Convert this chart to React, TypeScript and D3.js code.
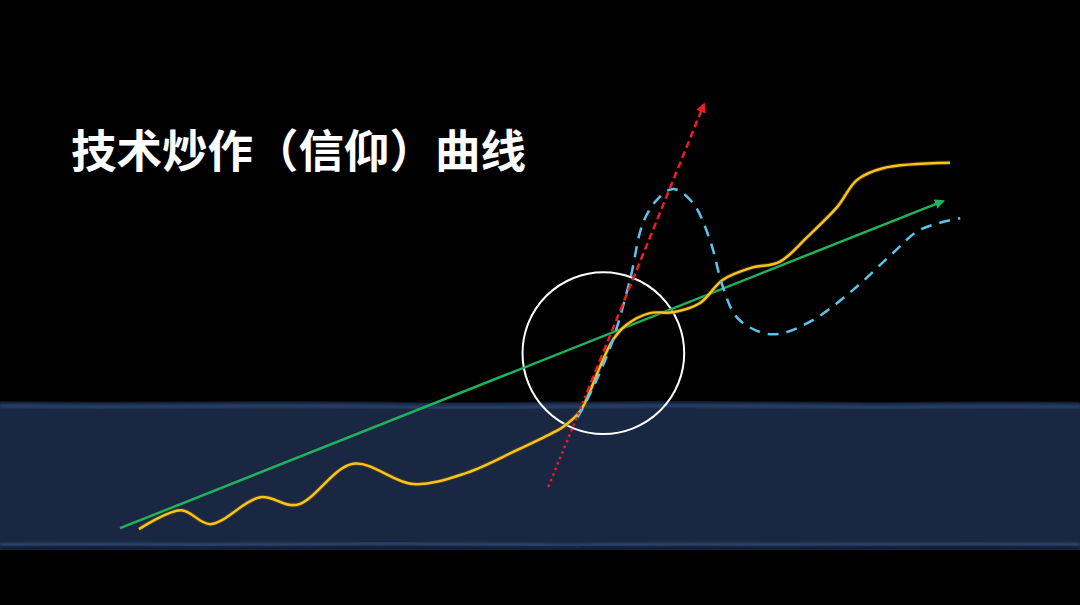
import React from "react";
import * as d3 from "d3";

const W = 1080;
const H = 605;

const title = "技术炒作（信仰）曲线";

// abstract coordinates: t = time (0..100), v = expectation (0..100)
const hypeT = [3.6, 8.5, 11.9, 17.7, 22.0, 28.5, 35.5, 41.7, 47.6, 51.7, 52.9, 54.9, 56.0, 56.9, 58.7, 60.3, 63.0, 65.7, 68.8, 71.5, 74.7, 78.1, 81.3, 84.8, 87.1, 90.1, 97.9];
const hypeV = [4.2, 8.4, 5.3, 11.3, 9.6, 18.7, 14.2, 16.7, 21.8, 25.6, 26.9, 30.4, 34.6, 38.9, 46.2, 49.6, 52.2, 52.4, 54.4, 59.6, 62.2, 63.6, 69.1, 75.8, 81.8, 84.4, 85.6];

const bubbleT = [54.6, 55.8, 57.2, 58.7, 60.7, 62.2, 63.8, 65.7, 68.0, 70.0, 71.5, 73.1, 75.8, 78.1, 82.0, 86.6, 91.3, 94.4, 99.1];
const bubbleV = [29.0, 33.3, 39.0, 46.2, 59.6, 72.2, 77.3, 79.8, 76.7, 68.4, 58.0, 51.3, 48.0, 47.6, 50.7, 57.3, 65.6, 70.7, 73.3];

const trendT = [1.4, 97.1];
const trendV = [4.4, 77.1];

const hypeTangentT = [51.2, 55.7, 69.3];
const hypeTangentV = [13.6, 34.6, 98.6];

const focusT = 57.6;
const focusV = 43.3;
const focusR = 9.4;

const bandV = [0, 32.2];
const bandTopWave = [0, 0.6, 0.2, -0.3, 0.5, 0.9, 0.1, -0.4, 0.3, 0.7, 0.0, 0.4];
const bandBottomWave = [0.3, -0.2, 0.5, 0.1, -0.4, 0.3, 0.6, -0.1, 0.4, 0.0, -0.3, 0.2];

const x = d3.scaleLinear().domain([0, 100]).range([108, 968]);
const y = d3.scaleLinear().domain([0, 100]).range([548, 98]);

type P = [number, number];
const zip = (a: number[], b: number[]): P[] => a.map((t, i) => [t, b[i]]);

const smooth = d3
  .line<P>()
  .x((d) => x(d[0]))
  .y((d) => y(d[1]))
  .curve(d3.curveCatmullRom.alpha(0.5));

const straight = d3
  .line<P>()
  .x((d) => x(d[0]))
  .y((d) => y(d[1]));

export default function App() {
  const top = y(bandV[1]);
  const bottom = y(bandV[0]);
  const waveX = d3.scaleLinear().domain([0, bandTopWave.length - 1]).range([0, W]);
  const edge = (base: number, wave: number[]) =>
    d3
      .line<number>()
      .x((_, i) => waveX(i))
      .y((d) => base + d * 2)
      .curve(d3.curveBasis)(wave) as string;

  const tangent = zip(hypeTangentT, hypeTangentV);

  return (
    <svg
      width={W}
      height={H}
      style={{ position: "absolute", left: 0, top: 0, background: "#000" }}
    >
      <defs>
        <marker id="arrG" viewBox="0 0 10 10" refX="8" refY="5" markerWidth="4" markerHeight="4" orient="auto">
          <path d="M0,0 L10,5 L0,10 z" fill="#1fb35c" />
        </marker>
        <marker id="arrR" viewBox="0 0 10 10" refX="8" refY="5" markerWidth="4" markerHeight="4" orient="auto">
          <path d="M0,0 L10,5 L0,10 z" fill="#ee1c24" />
        </marker>
        <filter id="soft" x="-5%" y="-50%" width="110%" height="200%">
          <feGaussianBlur stdDeviation="1.2" />
        </filter>
      </defs>
      <rect x={0} y={0} width={W} height={H} fill="#000" />

      {/* band */}
      <rect x={0} y={top} width={W} height={bottom - top + 2} fill="#1a2742" />
      <path d={edge(top, bandTopWave)} stroke="#1f2f4e" strokeWidth={3} fill="none" filter="url(#soft)" />
      <path d={edge(top + 3, bandTopWave)} stroke="#2c4672" strokeWidth={2.5} fill="none" filter="url(#soft)" />
      <path d={edge(bottom - 4, bandBottomWave)} stroke="#2c4672" strokeWidth={3} fill="none" filter="url(#soft)" />
      <path d={edge(bottom, bandBottomWave)} stroke="#131d33" strokeWidth={3} fill="none" filter="url(#soft)" />

      {/* title */}
      <text
        x={71}
        y={168}
        fill="#ffffff"
        fontSize={45.5}
        fontWeight={700}
        fontFamily="'Noto Sans CJK SC', 'Noto Sans', sans-serif"
      >
        {title}
      </text>

      {/* focus circle */}
      <circle
        cx={x(focusT)}
        cy={y(focusV)}
        r={x(focusR) - x(0)}
        fill="none"
        stroke="#ffffff"
        strokeWidth={2}
      />

      {/* trend line */}
      <path
        d={straight(zip(trendT, trendV)) as string}
        stroke="#1fb35c"
        strokeWidth={2.5}
        fill="none"
        markerEnd="url(#arrG)"
      />

      {/* hype (actual) curve */}
      <path d={smooth(zip(hypeT, hypeV)) as string} stroke="#5a4a10" strokeWidth={4.5} fill="none" opacity={0.6} />
      <path d={smooth(zip(hypeT, hypeV)) as string} stroke="#fcc419" strokeWidth={2.5} fill="none" />

      {/* bubble dashed curve */}
      <path
        d={smooth(zip(bubbleT, bubbleV)) as string}
        stroke="#5cc3ec"
        strokeWidth={2.5}
        strokeDasharray="11 8"
        fill="none"
      />

      {/* red tangent */}
      <path
        d={straight([tangent[0], tangent[1]]) as string}
        stroke="#ee1c24"
        strokeWidth={2.5}
        strokeDasharray="2.5 3.5"
        fill="none"
      />
      <path
        d={straight([tangent[1], tangent[2]]) as string}
        stroke="#ee1c24"
        strokeWidth={2.5}
        strokeDasharray="7 4"
        fill="none"
        markerEnd="url(#arrR)"
      />
    </svg>
  );
}
